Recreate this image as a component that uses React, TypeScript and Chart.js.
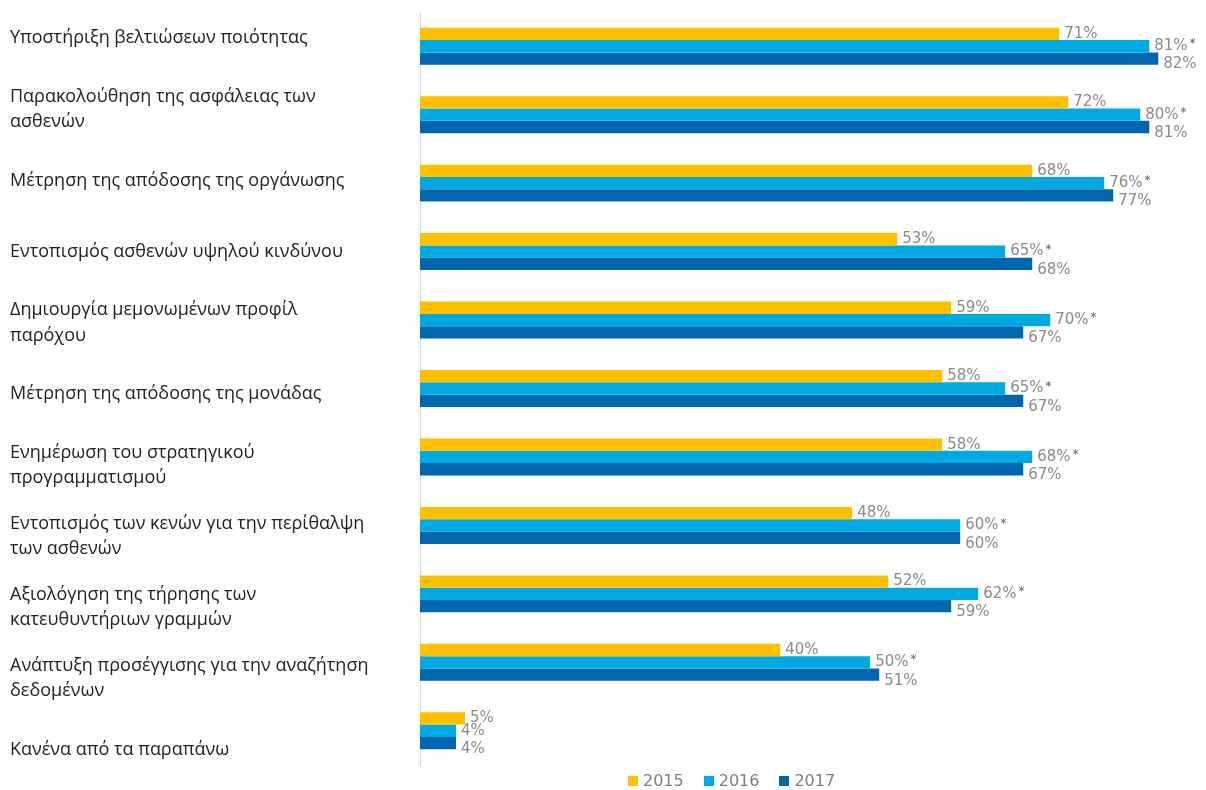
import React, { useEffect, useRef } from "react";
import { Chart, registerables } from "chart.js";

Chart.register(...registerables);

const categories: (string | string[])[] = [
  "Υποστήριξη βελτιώσεων ποιότητας",
  ["Παρακολούθηση της ασφάλειας των", "ασθενών"],
  "Μέτρηση της απόδοσης της οργάνωσης",
  "Εντοπισμός ασθενών υψηλού κινδύνου",
  ["Δημιουργία μεμονωμένων προφίλ", "παρόχου"],
  "Μέτρηση της απόδοσης της μονάδας",
  ["Ενημέρωση του στρατηγικού", "προγραμματισμού"],
  ["Εντοπισμός των κενών για την περίθαλψη", "των ασθενών"],
  ["Αξιολόγηση της τήρησης των", "κατευθυντήριων γραμμών"],
  ["Ανάπτυξη προσέγγισης για την αναζήτηση", "δεδομένων"],
  "Κανένα από τα παραπάνω",
];

const years = ["2015", "2016", "2017"];
const values2015 = [71, 72, 68, 53, 59, 58, 58, 48, 52, 40, 5];
const values2016 = [81, 80, 76, 65, 70, 65, 68, 60, 62, 50, 4];
const values2017 = [82, 81, 77, 68, 67, 67, 67, 60, 59, 51, 4];
const starred2016 = [true, true, true, true, true, true, true, true, true, true, false];

const colors = ["#FFC000", "#00A9E0", "#0066B0"];
const LABEL_FONT = '"Open Sans", sans-serif';
const VALUE_FONT = '"DejaVu Sans", sans-serif';

const valueLabelsPlugin = {
  id: "valueLabels",
  afterDatasetsDraw(chart: any) {
    const ctx = chart.ctx;
    ctx.save();
    ctx.textBaseline = "middle";
    ctx.textAlign = "left";
    chart.data.datasets.forEach((ds: any, di: number) => {
      const meta = chart.getDatasetMeta(di);
      meta.data.forEach((bar: any, i: number) => {
        const text = ds.data[i] + "%";
        const x = bar.x + 5;
        const y = bar.y + (di === 2 ? 6 : 0);
        ctx.font = "15px " + VALUE_FONT;
        ctx.fillStyle = "#8a8a8a";
        ctx.fillText(text, x, y);
        if (di === 1 && starred2016[i]) {
          const w = ctx.measureText(text).width;
          ctx.font = "12px " + VALUE_FONT;
          ctx.fillStyle = "#606060";
          ctx.fillText("*", x + w + 2, y - 2);
        }
      });
    });
    ctx.restore();
  },
};

const categoryLabelsPlugin = {
  id: "categoryLabels",
  afterDraw(chart: any) {
    const ctx = chart.ctx;
    const y = chart.scales.y;
    const n = categories.length;
    const first = y.getPixelForValue(0) - 8;
    const last = y.getPixelForValue(n - 1) + 19;
    const step = (last - first) / (n - 1);
    const lh = 25.5;
    ctx.save();
    ctx.font = "18px " + LABEL_FONT;
    ctx.fillStyle = "#222222";
    ctx.textBaseline = "middle";
    ctx.textAlign = "left";
    categories.forEach((c, i) => {
      const lines = Array.isArray(c) ? c : [c];
      const cy = first + i * step;
      const start = cy - ((lines.length - 1) * lh) / 2;
      lines.forEach((l, k) => ctx.fillText(l, 2, start + k * lh));
    });
    ctx.restore();
  },
};

export default function App() {
  const ref = useRef<HTMLCanvasElement>(null);
  useEffect(() => {
    if (!ref.current) return;
    const chart = new Chart(ref.current, {
      type: "bar",
      data: {
        labels: categories.map((c) => (Array.isArray(c) ? c.join(" ") : c)),
        datasets: [values2015, values2016, values2017].map((d, i) => ({
          label: years[i],
          data: d,
          backgroundColor: colors[i],
          borderWidth: 0,
          categoryPercentage: 0.54,
          barPercentage: 1,
        })),
      },
      options: {
        indexAxis: "y",
        animation: false,
        responsive: true,
        maintainAspectRatio: false,
        layout: { padding: { left: 404, top: 4, bottom: 25, right: 0 } },
        scales: {
          x: { display: false, min: 0, max: 87.3 },
          y: {
            ticks: { display: false },
            grid: { display: false },
            border: { display: true, color: "#d9d9d9", width: 1 },
          },
        },
        plugins: {
          legend: { display: false },
          tooltip: { enabled: false },
        },
      },
      plugins: [valueLabelsPlugin, categoryLabelsPlugin],
    });
    return () => chart.destroy();
  }, []);

  return (
    <div style={{ position: "relative", width: 1198, height: 782 }}>
      <canvas ref={ref} />
      <div
        style={{
          position: "absolute",
          left: 620,
          top: 763,
          display: "flex",
          alignItems: "center",
          fontFamily: VALUE_FONT,
          fontSize: 16,
          color: "#7f7f7f",
        }}
      >
        {years.map((y, i) => (
          <div key={y} style={{ display: "flex", alignItems: "center", marginRight: 20 }}>
            <span style={{ display: "inline-block", width: 10, height: 10, background: colors[i], marginRight: 5 }} />
            <span>{y}</span>
          </div>
        ))}
      </div>
    </div>
  );
}
